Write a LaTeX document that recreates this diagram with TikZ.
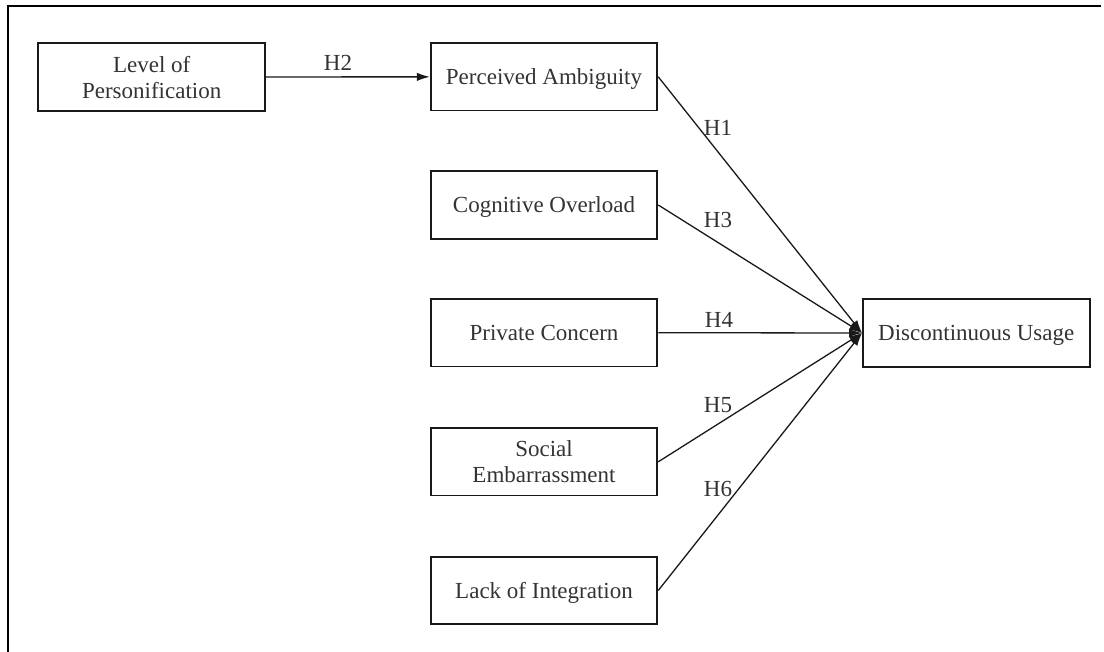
\documentclass[tikz,border=0pt]{standalone}
\usepackage{fontspec}
\setmainfont{Liberation Serif}
\usetikzlibrary{arrows.meta}
\begin{document}
\begin{tikzpicture}[x=1pt,y=-1pt,
  box/.style={draw=black!90, line width=1.8pt, minimum width=226.7pt, minimum height=67.5pt,
    inner sep=0pt, align=center, text depth=0pt, font=\fontsize{23}{26}\selectfont, text=black!80},
  conn/.style={line width=1.3pt, draw=black!90, -{Latex[length=13pt,width=8.5pt]}},
  lbl/.style={font=\fontsize{23}{26}\selectfont, text=black!80, inner sep=0pt},
  frame/.style={draw=black}]
\useasboundingbox (0,0) rectangle (1104,652);
% frame
\draw[frame, line width=1.6pt] (7,6) -- (1101,6);
\draw[frame, line width=2.8pt] (8,4.6) -- (8,652);
% boxes
\node[box] (lp) at (151.7,77) {Level of\\Personification};
\node[box] (pa) at (544,76.8) {Perceived Ambiguity};
\node[box] (co) at (544,205) {Cognitive Overload};
\node[box] (pc) at (544,332.7) {Private Concern};
\node[box] (se) at (544,461.8) {Social\\Embarrassment};
\node[box] (li) at (544,590.5) {Lack of Integration};
\node[box] (du) at (976.3,333) {Discontinuous Usage};
% connectors
\draw[conn] (lp) -- (pa);
\draw[conn] (pa.east) -- (du.west);
\draw[conn] (co.east) -- (du.west);
\draw[conn] (pc.east) -- (du.west);
\draw[conn] (se.east) -- (du.west);
\draw[conn] (li.east) -- (du.west);
% labels
\node[lbl] (h2) at (338,63) {H2};
\node[lbl] (h1) at (718,127.5) {H1};
\node[lbl] (h3) at (718,220.5) {H3};
\node[lbl] (h4) at (719,319.5) {H4};
\node[lbl] (h5) at (718,405) {H5};
\node[lbl] (h6) at (718,489) {H6};
\end{tikzpicture}
\end{document}
